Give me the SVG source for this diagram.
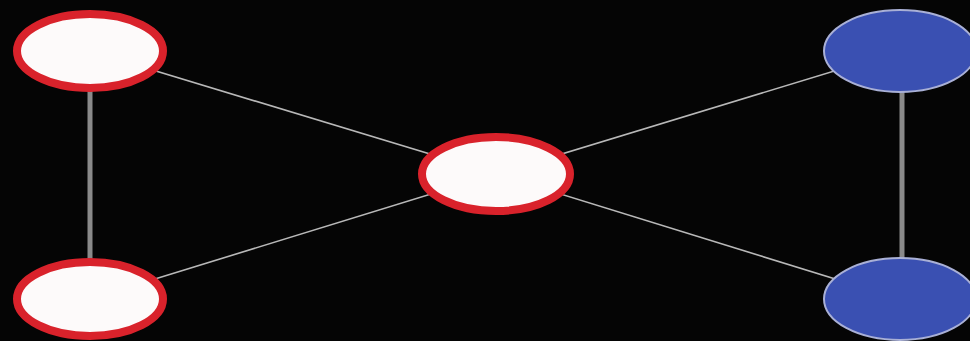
<svg xmlns="http://www.w3.org/2000/svg" width="970" height="341" viewBox="0 0 970 341">
<style>
.red{fill:#fdfafa;stroke:#d9222b;stroke-width:8}
.blue{fill:#3a50b2;stroke:#a9b0d6;stroke-width:2}
.thin{stroke:#b8b8b8;stroke-width:1.6;fill:none}
.thick{stroke:#8a8a8a;stroke-width:5;fill:none}
</style>
<rect width="970" height="341" fill="#050505"/>
<g id="connectors">
<line class="thin" x1="90" y1="51" x2="496" y2="174"/>
<line class="thin" x1="90" y1="299" x2="496" y2="174"/>
<line class="thin" x1="900" y1="51" x2="496" y2="174"/>
<line class="thin" x1="900" y1="299" x2="496" y2="174"/>
<line class="thick" x1="90" y1="51" x2="90" y2="299"/>
<line class="thick" x1="902" y1="51" x2="902" y2="299"/>
</g>
<g id="node-top-left"><ellipse class="red" cx="90" cy="51" rx="73" ry="37"/></g>
<g id="node-bottom-left"><ellipse class="red" cx="90" cy="299" rx="73" ry="37"/></g>
<g id="node-center"><ellipse class="red" cx="496" cy="174" rx="74" ry="37"/></g>
<g id="node-top-right"><ellipse class="blue" cx="900" cy="51" rx="76" ry="41"/></g>
<g id="node-bottom-right"><ellipse class="blue" cx="900" cy="299" rx="76" ry="41"/></g>
</svg>
